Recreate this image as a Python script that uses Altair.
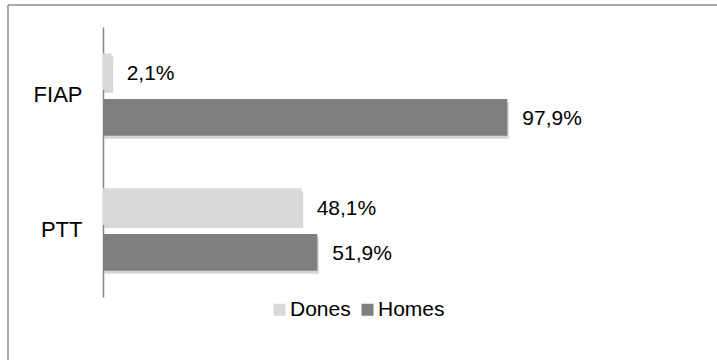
import altair as alt
import pandas as pd

categories = ["FIAP", "PTT"]
series = ["Dones", "Homes"]
dones = [2.1, 48.1]
homes = [97.9, 51.9]
colors = ["#d9d9d9", "#7f7f7f"]

rows = []
for i, c in enumerate(categories):
    for s, vals in zip(series, [dones, homes]):
        v = vals[i]
        rows.append({"cat": c, "serie": s, "val": v,
                     "label": f"{v:.1f}".replace(".", ",") + "%"})
df = pd.DataFrame(rows)

FONT = "Liberation Sans"

y_enc = alt.Y("cat:N", sort=categories,
              scale=alt.Scale(type="band", domain=categories, paddingInner=0.39, paddingOuter=0.195),
              axis=alt.Axis(title=None, ticks=False, labelFontSize=22, labelFont=FONT,
                            labelColor="black", domainColor="#868686", domainWidth=1.5,
                            labelPadding=21, grid=False))
x_enc = alt.X("val:Q", scale=alt.Scale(domain=[0, 100], nice=False), axis=None)

base = alt.Chart(df)

shadow = base.mark_bar(color="#000000", opacity=0.16, xOffset=1.5).encode(
    x=x_enc, y=y_enc,
    yOffset=alt.YOffset("serie:N", sort=series,
                        scale=alt.Scale(type="band", domain=series, range=[3, 85.35],
                                        paddingInner=0.2, paddingOuter=0)),
)

bars = base.mark_bar().encode(
    x=x_enc, y=y_enc,
    yOffset=alt.YOffset("serie:N", sort=series,
                        scale=alt.Scale(type="band", domain=series, paddingInner=0.2, paddingOuter=0)),
    color=alt.Color("serie:N", sort=series,
                    scale=alt.Scale(domain=series, range=colors),
                    legend=alt.Legend(orient="none", legendX=166, legendY=272,
                                      direction="horizontal", title=None,
                                      symbolType="square", symbolSize=144,
                                      symbolStrokeWidth=0, symbolOpacity=1,
                                      labelFontSize=21, labelFont=FONT,
                                      labelColor="black", labelOffset=0,
                                      columnPadding=6)),
)

text = base.mark_text(align="left", baseline="middle", dx=15, dy=2,
                      fontSize=21, font=FONT, color="black").encode(
    x=x_enc, y=y_enc,
    yOffset=alt.YOffset("serie:N", sort=series,
                        scale=alt.Scale(type="band", domain=series, range=[0, 82.35],
                                        paddingInner=0.2, paddingOuter=0)),
    text="label:N",
)

one = pd.DataFrame({"k": [0]})
border_top = alt.Chart(one).mark_rule(color="#8c8c8c", strokeWidth=1.5).encode(
    x=alt.value(-95), x2=alt.value(640), y=alt.value(-22))
border_left = alt.Chart(one).mark_rule(color="#8c8c8c", strokeWidth=1.5).encode(
    x=alt.value(-95), y=alt.value(-22), y2=alt.value(360))

chart = alt.layer(border_top, border_left, shadow, bars, text).resolve_scale(
    yOffset="independent"
).properties(
    width=413, height=270,
    padding={"left": 103, "top": 27, "right": 201, "bottom": 63},
    autosize=alt.AutoSizeParams(type="none"),
    background="white",
).configure_view(stroke=None)

chart.save("out.html", embed_options={"renderer": "svg", "actions": False})
